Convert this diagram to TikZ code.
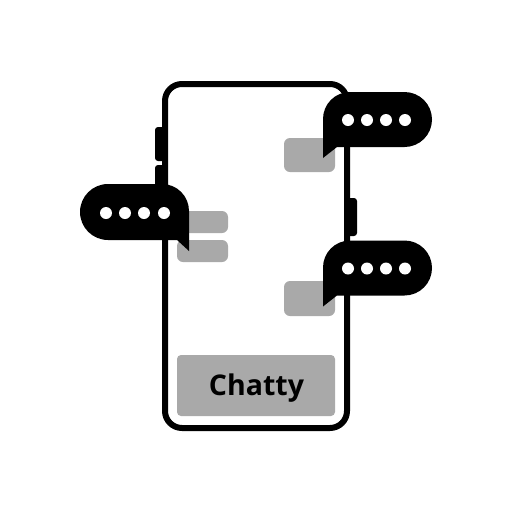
\documentclass[tikz,border=0pt]{standalone}
\usepackage{fontspec}
\setmainfont{Open Sans}
\definecolor{panel}{HTML}{A9A9A9}
\tikzset{
  phonebody/.style={draw=black,line width=6pt,rounded corners=17pt,fill=white},
  sidekey/.style={fill=black,rounded corners=3pt},
  panelbox/.style={fill=panel,rounded corners=6pt},
  bubbledot/.style={fill=white},
}
\newcommand{\rightbubble}[1]{%
  \begin{scope}[yshift=#1]
    \fill[black] (323,158) -- (323,119) arc[start angle=180,end angle=270,radius=27] -- (404.5,92)
      arc[start angle=-90,end angle=90,radius=27.5] -- (337,147) -- cycle;
    \foreach \x in {348,367,386,405} \fill[bubbledot] (\x,120) circle[radius=6];
  \end{scope}}
\begin{document}
\begin{tikzpicture}[x=1pt,y=-1pt]
\useasboundingbox (0,0) rectangle (512,512);
% side keys
\fill[sidekey] (155,127) rectangle (166,161);
\fill[sidekey] (155,165) rectangle (166,195);
\fill[sidekey] (346,198) rectangle (357,236);
% phone
\draw[phonebody] (165,84) rectangle (347,428);
% panels
\fill[panelbox] (284,138) rectangle (335,172);
\fill[panelbox] (284,281) rectangle (335,316);
\fill[panelbox] (177,211) rectangle (228,233);
\fill[panelbox] (177,240) rectangle (228,262);
\fill[panelbox,rounded corners=4pt] (177,355) rectangle (335,416);
\node[font=\bfseries,text=black,inner sep=0pt,anchor=base] (title) at (256.5,395) {\fontsize{28.5}{28.5}\selectfont Chatty};
% bubbles
\rightbubble{0pt}
\rightbubble{-148.5pt}
\fill[black] (189,251) -- (177,240) -- (108,240) arc[start angle=90,end angle=270,radius=28] -- (162,184)
  arc[start angle=-90,end angle=0,radius=27] -- cycle;
\foreach \x in {106,125,144,164} \fill[bubbledot] (\x,213) circle[radius=6];
\end{tikzpicture}
\end{document}
